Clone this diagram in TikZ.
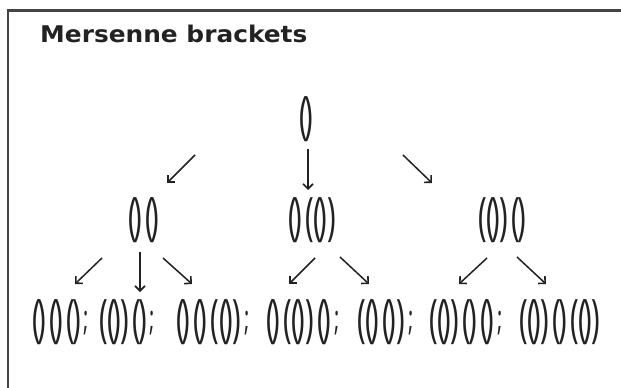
\documentclass[tikz,border=0pt]{standalone}
\usepackage{fontspec}
\usetikzlibrary{arrows.meta}
\newfontfamily\titlefont{DejaVu Sans}
\newfontfamily\brfont{Noto Sans}
\newcommand\brsize{\fontsize{50}{50}\selectfont}
\newcommand\scsize{\fontsize{34}{34}\selectfont}
% character classes for bracket spacing
\newXeTeXintercharclass\LPc
\newXeTeXintercharclass\RPc
\XeTeXcharclass`\(=\LPc
\XeTeXcharclass`\)=\RPc
\newdimen\bLl \newdimen\bRl \newdimen\bLr \newdimen\bRr \newdimen\bLs
\newdimen\bInk \newdimen\bT \newdimen\bD \newdimen\bTs \newdimen\bDs
\newdimen\bRaise
\newdimen\kIn \newdimen\kOut \newdimen\kOo \newdimen\kCc \newdimen\kSc
\XeTeXinterchartoks\LPc\RPc={\kern\kIn}
\XeTeXinterchartoks\RPc\LPc={\kern\kOut}
\XeTeXinterchartoks\LPc\LPc={\kern\kOo}
\XeTeXinterchartoks\RPc\RPc={\kern\kCc}
\def\bxs{1}\def\bys{1}
\AtBeginDocument{%
  \begingroup
  \brfont\brsize
  \global\bLl=\XeTeXglyphbounds1 \XeTeXcharglyph`\(\relax
  \global\bRl=\XeTeXglyphbounds3 \XeTeXcharglyph`\(\relax
  \global\bLr=\XeTeXglyphbounds1 \XeTeXcharglyph`\)\relax
  \global\bRr=\XeTeXglyphbounds3 \XeTeXcharglyph`\)\relax
  \global\bInk=\dimexpr\fontcharwd\font`\( -\bLl -\bRl\relax
  \setbox0=\hbox{(}\global\bT=\ht0 \global\bD=\dp0
  \endgroup
  \begingroup
  \brfont\scsize
  \global\bLs=\XeTeXglyphbounds1 \XeTeXcharglyph`\;\relax
  \setbox0=\hbox{;}\global\bTs=\ht0 \global\bDs=\dp0
  \endgroup
  \pgfmathparse{6.6/\the\bInk}\xdef\bxs{\pgfmathresult}%
  \pgfmathparse{45/(\the\bT+\the\bD)}\xdef\bys{\pgfmathresult}%
  \pgfmathparse{(\the\bT-\the\bD-\the\bTs+\the\bDs)/2-1/\bys}\global\bRaise=\pgfmathresult pt
  \pgfmathparse{-1.6/\bxs}\global\kIn=\dimexpr\pgfmathresult pt -\bRl -\bLr\relax
  \pgfmathparse{5.8/\bxs}\global\kOut=\dimexpr\pgfmathresult pt -\bRr -\bLl\relax
  \pgfmathparse{1.6/\bxs}\global\kOo=\dimexpr\pgfmathresult pt -\bRl -\bLl\relax
  \pgfmathparse{1.6/\bxs}\global\kCc=\dimexpr\pgfmathresult pt -\bRr -\bLr\relax
  \pgfmathparse{5/\bxs}\global\kSc=\dimexpr\pgfmathresult pt -\bRr -\bLs\relax
}
\newcommand\B[1]{\scalebox{\bxs}[\bys]{\kern-\bLl #1}}
\newcommand\SC{\kern\kSc\raisebox{\bRaise}{\scsize;}}
\definecolor{framec}{HTML}{444444}
\definecolor{inkc}{HTML}{222222}
\tikzset{
  brk/.style={inner sep=0pt, anchor=west, text=inkc,
    font={\XeTeXinterchartokenstate=1 \brfont\brsize}},
  arr/.style={draw=inkc, line width=1.5pt,
    -{Straight Barb[length=5pt,width=10pt,line width=1.6pt]}},
  frame/.style={draw=framec, line width=2.5pt},
  ttl/.style={inner sep=0pt, anchor=base west, text=inkc,
    font={\titlefont\bfseries\fontsize{23}{23}\selectfont}}
}
\begin{document}
\begin{tikzpicture}[x=1pt,y=-1pt]
\useasboundingbox (0,0) rectangle (621,388);
\fill[white] (0,0) rectangle (621,388);
% frame (top and left edges visible)
\coordinate (fbl) at (8,390);
\coordinate (ftl) at (8,10.5);
\coordinate (ftr) at (623,10.5);
\draw[frame] (fbl) -- (ftl) -- (ftr);
% title
\node[ttl] (title) at (40,42) {\scalebox{1.08}[1]{Mersenne brackets}};
% root
\node[brk] (r) at (300.5,119) {\B{()}};
% level 1
\node[brk] (a) at (129,220.5) {\B{()()}};
\node[brk] (b) at (289,220.5) {\B{()(())}};
\node[brk] (c) at (479,220.5) {\B{(())()}};
% level 2
\node[brk] (a1) at (33,322.5) {\B{()()()\SC}};
\node[brk] (a2) at (100,322.5) {\B{(())()\SC}};
\node[brk] (a3) at (177,322.5) {\B{()()(())\SC}};
\node[brk] (b1) at (267,322.5) {\B{()(())()\SC}};
\node[brk] (b2) at (358,322.5) {\B{(()())\SC}};
\node[brk] (c1) at (430,322.5) {\B{(())()()\SC}};
\node[brk] (c2) at (520,322.5) {\B{(())()(())}};
% arrow end points
\coordinate (ra0) at (195,155); \coordinate (ra1) at (167,183);
\coordinate (rb0) at (308,149); \coordinate (rb1) at (308,190);
\coordinate (rc0) at (403,155); \coordinate (rc1) at (432,183);
\coordinate (aa0) at (102,258); \coordinate (aa1) at (75,284);
\coordinate (ab0) at (140,252); \coordinate (ab1) at (140,292);
\coordinate (ac0) at (163,258); \coordinate (ac1) at (192,284);
\coordinate (ba0) at (315,258); \coordinate (ba1) at (289,284);
\coordinate (bb0) at (340,257); \coordinate (bb1) at (369,284);
\coordinate (ca0) at (487,258); \coordinate (ca1) at (459,284);
\coordinate (cb0) at (517,257); \coordinate (cb1) at (546,284);
\draw[arr] (ra0) -- (ra1);
\draw[arr] (rb0) -- (rb1);
\draw[arr] (rc0) -- (rc1);
\draw[arr] (aa0) -- (aa1);
\draw[arr] (ab0) -- (ab1);
\draw[arr] (ac0) -- (ac1);
\draw[arr] (ba0) -- (ba1);
\draw[arr] (bb0) -- (bb1);
\draw[arr] (ca0) -- (ca1);
\draw[arr] (cb0) -- (cb1);
\end{tikzpicture}
\end{document}
